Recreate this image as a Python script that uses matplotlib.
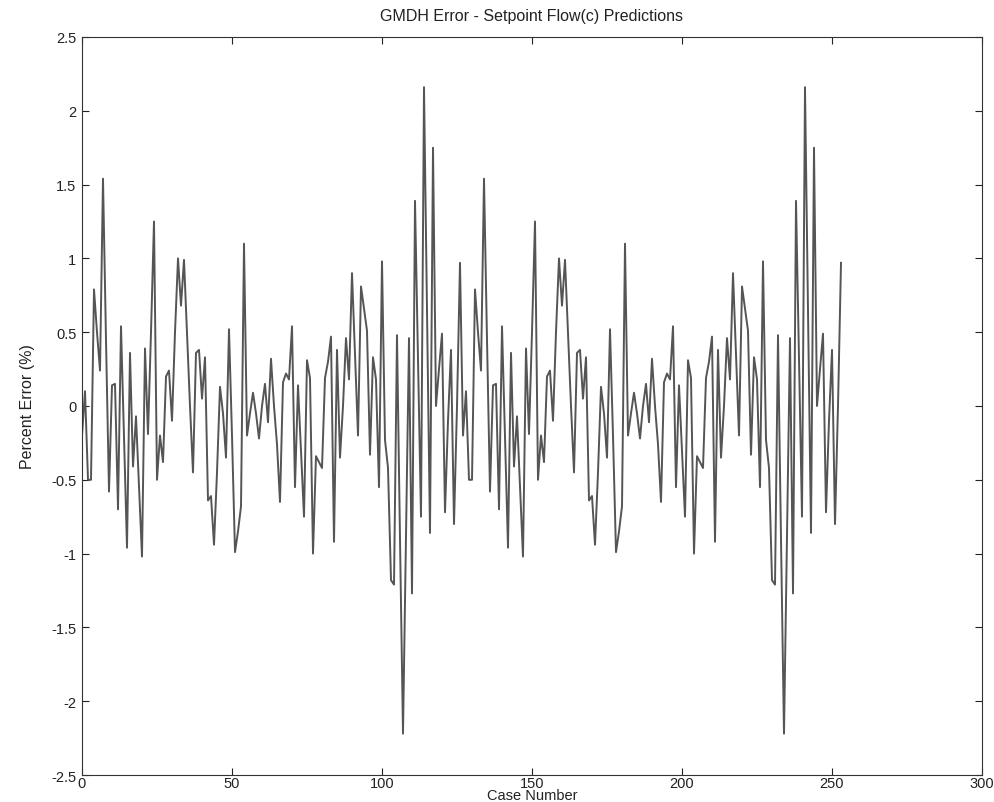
import numpy as np
import matplotlib
matplotlib.use("Agg")
import matplotlib.pyplot as plt

# First pass of the repeating pattern (cases 0-126)
cycle_1 = [-0.20, 0.10, -0.50, -0.50, 0.79, 0.50, 0.24, 1.54, 0.45, -0.58,
           0.14, 0.15, -0.70, 0.54, -0.20, -0.96, 0.36, -0.41, -0.07, -0.55,
           -1.02, 0.39, -0.19, 0.50, 1.25, -0.50, -0.20, -0.38, 0.20, 0.24,
           -0.10, 0.50, 1.00, 0.68, 0.99, 0.50, 0.00, -0.45, 0.36, 0.38,
           0.05, 0.33, -0.64, -0.61, -0.94, -0.45, 0.13, -0.05, -0.35, 0.52,
           -0.20, -0.99, -0.85, -0.68, 1.10, -0.20, -0.05, 0.09, -0.05, -0.22,
           0.00, 0.15, -0.11, 0.32, 0.00, -0.26, -0.65, 0.16, 0.22, 0.18,
           0.54, -0.55, 0.14, -0.30, -0.75, 0.31, 0.19, -1.00, -0.34, -0.38,
           -0.42, 0.19, 0.30, 0.47, -0.92, 0.38, -0.35, 0.00, 0.46, 0.18,
           0.90, 0.35, -0.20, 0.81, 0.66, 0.51, -0.33, 0.33, 0.18, -0.55,
           0.98, -0.23, -0.42, -1.18, -1.21, 0.48, -0.90, -2.22, -0.90, 0.46,
           -1.27, 1.39, 0.30, -0.75, 2.16, 0.65, -0.86, 1.75, 0.00, 0.25,
           0.49, -0.72, -0.10, 0.38, -0.80, 0.00, 0.97]
# Second pass (cases 127-253)
cycle_2 = [-0.20, 0.10, -0.50, -0.50, 0.79, 0.50, 0.24, 1.54, 0.45, -0.58,
           0.14, 0.15, -0.70, 0.54, -0.20, -0.96, 0.36, -0.41, -0.07, -0.55,
           -1.02, 0.39, -0.19, 0.50, 1.25, -0.50, -0.20, -0.38, 0.20, 0.24,
           -0.10, 0.50, 1.00, 0.68, 0.99, 0.50, 0.00, -0.45, 0.36, 0.38,
           0.05, 0.33, -0.64, -0.61, -0.94, -0.45, 0.13, -0.05, -0.35, 0.52,
           -0.20, -0.99, -0.85, -0.68, 1.10, -0.20, -0.05, 0.09, -0.05, -0.22,
           0.00, 0.15, -0.11, 0.32, 0.00, -0.26, -0.65, 0.16, 0.22, 0.18,
           0.54, -0.55, 0.14, -0.30, -0.75, 0.31, 0.19, -1.00, -0.34, -0.38,
           -0.42, 0.19, 0.30, 0.47, -0.92, 0.38, -0.35, 0.00, 0.46, 0.18,
           0.90, 0.35, -0.20, 0.81, 0.66, 0.51, -0.33, 0.33, 0.18, -0.55,
           0.98, -0.23, -0.42, -1.18, -1.21, 0.48, -0.90, -2.22, -0.90, 0.46,
           -1.27, 1.39, 0.30, -0.75, 2.16, 0.65, -0.86, 1.75, 0.00, 0.25,
           0.49, -0.72, -0.10, 0.38, -0.80, 0.00, 0.97]

percent_error = cycle_1 + cycle_2
case_number = list(range(len(percent_error)))

x_ticks = [0, 50, 100, 150, 200, 250, 300]
y_ticks = [-2.5, -2, -1.5, -1, -0.5, 0, 0.5, 1, 1.5, 2, 2.5]
y_tick_labels = ["-2.5", "-2", "-1.5", "-1", "-0.5", "0", "0.5", "1", "1.5", "2", "2.5"]

plt.rcParams['font.family'] = ['Liberation Sans', 'DejaVu Sans']

fig = plt.figure(figsize=(9.94, 8.03), dpi=100)
ax_bottom_px = 776
ax = fig.add_axes([82/994, 1 - ax_bottom_px/803, (982 - 82)/994,
                   (ax_bottom_px - 38)/803])

ax.plot(case_number, percent_error, color="#555555", linewidth=1.4)

ax.set_xlim(0, 300)
ax.set_ylim(-2.5, 2.5)
ax.set_xticks(x_ticks)
ax.set_xticklabels([str(t) for t in x_ticks])
ax.set_yticks(y_ticks)
ax.set_yticklabels(y_tick_labels)
ax.tick_params(direction="in", length=5, width=0.8, top=True, right=True,
               labelsize=10.5, colors="#222222")
ax.tick_params(axis="x", pad=0.5)
ax.tick_params(axis="y", pad=4)
for s in ax.spines.values():
    s.set_linewidth(0.8)
    s.set_color("#333333")

ax.set_title("GMDH Error - Setpoint Flow(c) Predictions", fontsize=11.5,
             pad=12, color="#222222")
ax.set_xlabel("Case Number", fontsize=10.5, color="#222222", va="bottom")
ax.xaxis.set_label_coords(0.5, -(803 - ax_bottom_px) / (ax_bottom_px - 38))
ax.set_ylabel("Percent Error (%)", fontsize=11.5, labelpad=12, color="#222222")

fig.savefig("out.png", dpi=100)
